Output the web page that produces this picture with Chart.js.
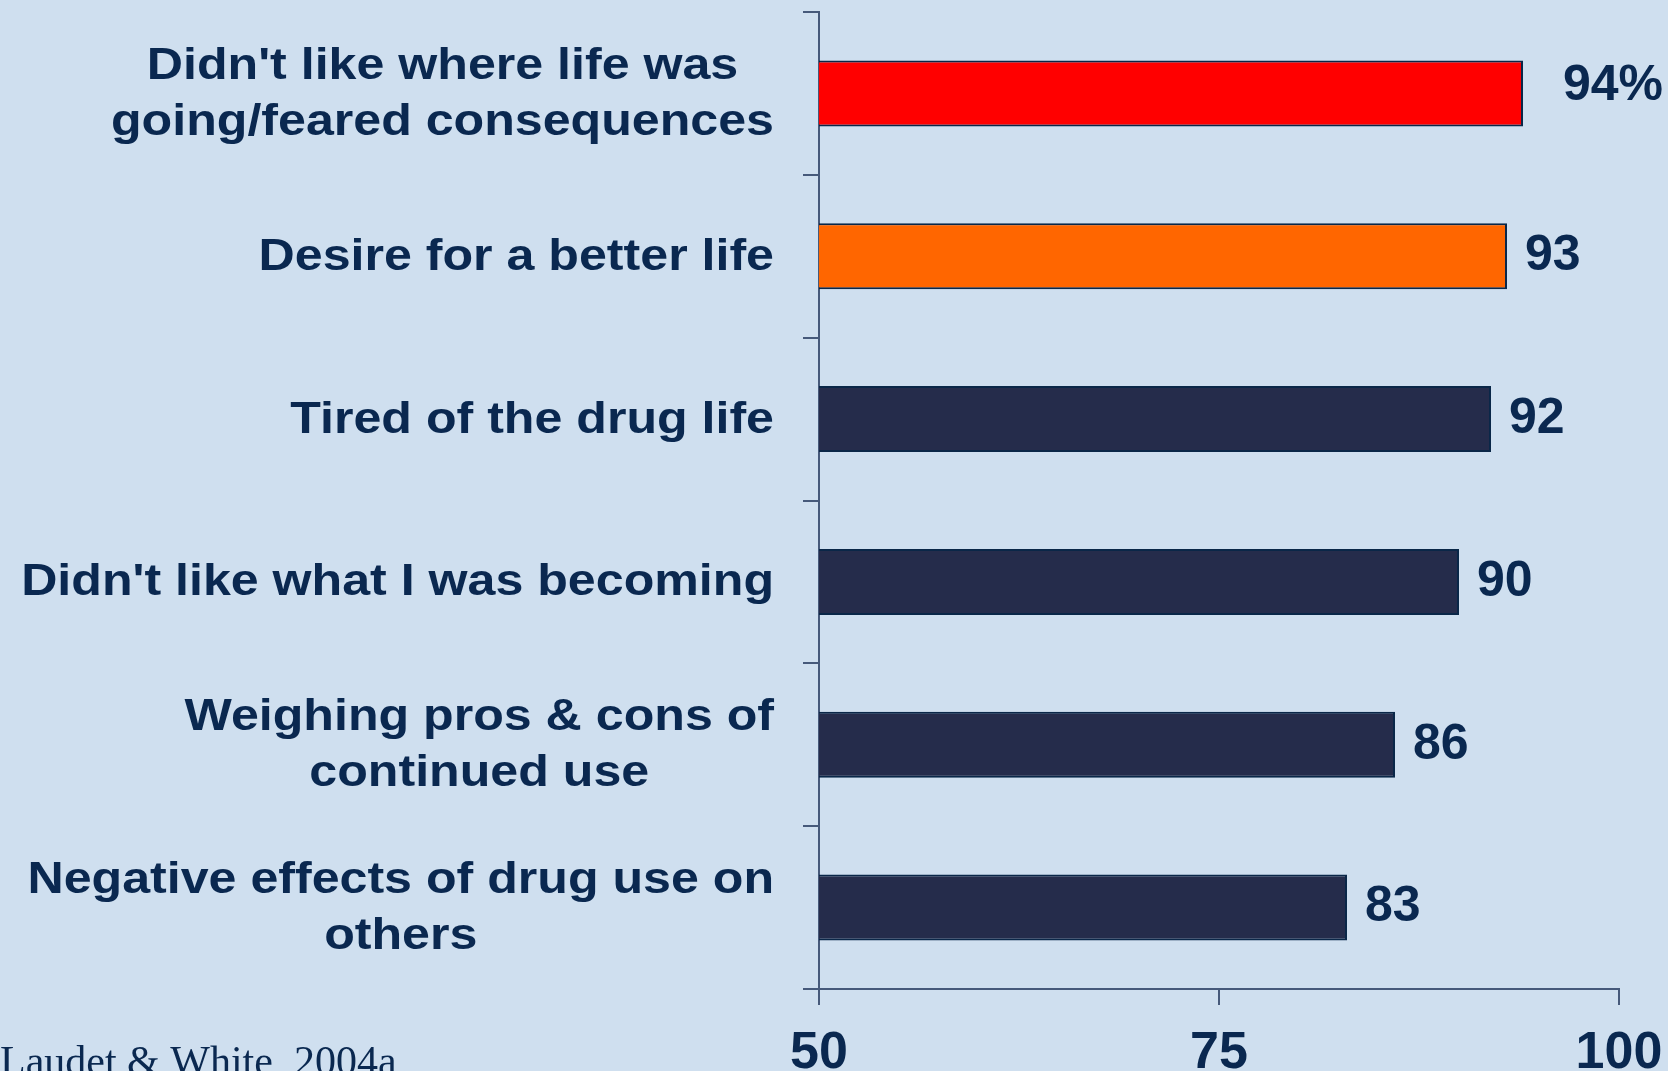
<!DOCTYPE html>
<html>
<head>
<meta charset="utf-8">
<script src="https://cdn.jsdelivr.net/npm/chart.js@4/dist/chart.umd.min.js"></script>
<style>
  html, body { margin: 0; padding: 0; background: #cfdfef; }
  #wrap { width: 1668px; height: 1071px; overflow: hidden; }
  canvas { display: block; }
</style>
</head>
<body>
<div id="wrap"><canvas id="chart" width="1668" height="1071"></canvas></div>
<script>
// Reasons given for stopping drug use (% of respondents)
const categories = [
  ["Didn't like where life was", "going/feared consequences"],
  ["Desire for a better life"],
  ["Tired of the drug life"],
  ["Didn't like what I was becoming"],
  ["Weighing pros & cons of", "continued use"],
  ["Negative effects of drug use on", "others"]
];
const values = [94, 93, 92, 90, 86, 83];
const valueLabels = ['94%', '93', '92', '90', '86', '83'];
const xTicks = [50, 75, 100];
const citation = 'Laudet & White, 2004a';

// Styling
const TEXT = '#0a2850';
const AXIS = '#46597a';
const BAR_EDGE = '#0a2748';
const barColors = ['#ff0000', '#ff6600', '#252c4b', '#252c4b', '#252c4b', '#252c4b'];
const LABEL_STRETCH = 1.114;

// Category names: each block is right-aligned to the axis, its lines centred on one another
const categoryLabelPlugin = {
  id: 'categoryLabels',
  afterDraw(chart) {
    const ctx = chart.ctx;
    const yScale = chart.scales.y;
    const right = yScale.right - 45;
    ctx.save();
    ctx.font = 'bold 45px "Liberation Sans", Arial, sans-serif';
    ctx.fillStyle = TEXT;
    ctx.textAlign = 'center';
    ctx.textBaseline = 'alphabetic';
    categories.forEach((lines, i) => {
      const yc = yScale.getPixelForValue(i);
      const w = Math.max(...lines.map(l => ctx.measureText(l).width)) * LABEL_STRETCH;
      const cx = right - w / 2;
      lines.forEach((line, j) => {
        const y = yc + 13.5 + (j - (lines.length - 1) / 2) * 56;
        ctx.save();
        ctx.translate(cx, y);
        ctx.scale(LABEL_STRETCH, 1);
        ctx.fillText(line, 0, 0);
        ctx.restore();
      });
    });
    ctx.restore();
  }
};

const valueLabelPlugin = {
  id: 'valueLabels',
  afterDatasetsDraw(chart) {
    const ctx = chart.ctx;
    const bars = chart.getDatasetMeta(0).data;
    ctx.save();
    ctx.font = 'bold 50px "Liberation Sans", Arial, sans-serif';
    ctx.fillStyle = TEXT;
    ctx.textAlign = 'left';
    ctx.textBaseline = 'middle';
    bars.forEach((bar, i) => {
      const first = i === 0;
      ctx.fillText(valueLabels[i], bar.x + (first ? 40 : 18), bar.y + (first ? -7 : 0));
    });
    ctx.restore();
  }
};

const citationPlugin = {
  id: 'citation',
  afterDraw(chart) {
    const ctx = chart.ctx;
    ctx.save();
    ctx.font = '42px "Liberation Serif", "Times New Roman", serif';
    ctx.fillStyle = TEXT;
    ctx.textAlign = 'left';
    ctx.textBaseline = 'alphabetic';
    ctx.fillText(citation, 0, 1075);
    ctx.restore();
  }
};

new Chart(document.getElementById('chart'), {
  type: 'bar',
  data: {
    labels: categories,
    datasets: [{
      data: values,
      backgroundColor: barColors,
      borderColor: BAR_EDGE,
      borderWidth: 2,
      borderSkipped: false,
      categoryPercentage: 1,
      barPercentage: 0.405
    }]
  },
  options: {
    indexAxis: 'y',
    responsive: false,
    animation: false,
    devicePixelRatio: 1,
    layout: { padding: { top: 12, right: 49, bottom: 0, left: 0 } },
    plugins: { legend: { display: false }, tooltip: { enabled: false } },
    scales: {
      x: {
        type: 'linear',
        position: 'bottom',
        min: 50,
        max: 100,
        afterBuildTicks(scale) { scale.ticks = xTicks.map(v => ({ value: v })); },
        afterFit(scale) {
          scale.height = 82;
          scale.paddingLeft = 0;
          scale.paddingRight = 0;
        },
        border: { display: true, color: AXIS, width: 2 },
        grid: { drawOnChartArea: false, drawTicks: true, tickLength: 16, color: AXIS, lineWidth: 2 },
        ticks: {
          padding: 23,
          color: TEXT,
          maxRotation: 0,
          autoSkip: false,
          font: { family: '"Liberation Sans", Arial, sans-serif', size: 52, weight: 'bold', lineHeight: 1 }
        }
      },
      y: {
        type: 'category',
        position: 'left',
        afterFit(scale) { scale.width = 819; },
        border: { display: true, color: AXIS, width: 2 },
        grid: { drawOnChartArea: false, drawTicks: true, tickLength: 16, color: AXIS, lineWidth: 2, offset: true },
        ticks: { display: false }
      }
    }
  },
  plugins: [categoryLabelPlugin, valueLabelPlugin, citationPlugin]
});
</script>
</body>
</html>
